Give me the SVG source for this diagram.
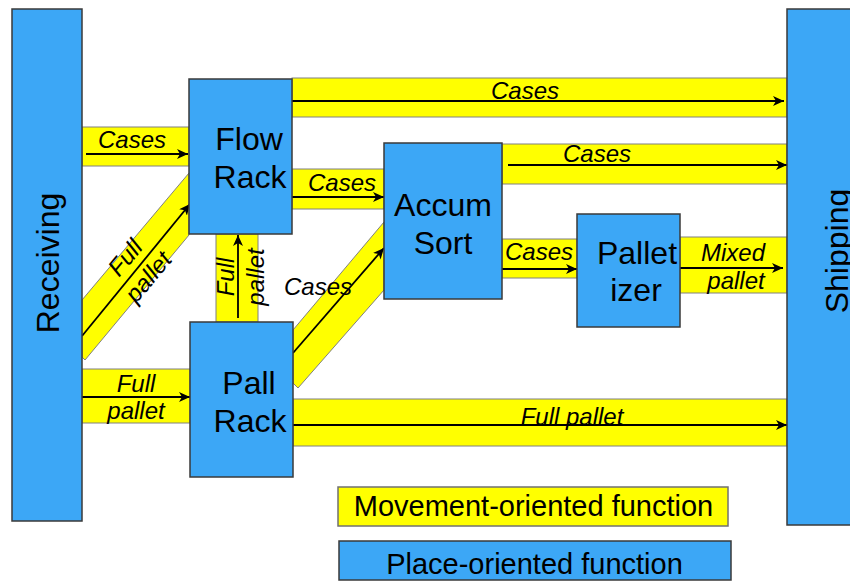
<svg xmlns="http://www.w3.org/2000/svg" width="850" height="581" viewBox="0 0 850 581">
<defs>
<marker id="ah" markerUnits="userSpaceOnUse" markerWidth="12" markerHeight="10" refX="11" refY="5" orient="auto">
<path d="M0,0 L11,5 L0,10 L3,5 Z" fill="#000"/>
</marker>
<style>
.band{fill:#FFFF00;stroke:#808080;stroke-width:1}
.arr{stroke:#000;stroke-width:1.8;fill:none;marker-end:url(#ah)}
.lbl{font-family:"Liberation Sans",Arial,sans-serif;font-size:24px;font-style:italic;fill:#000;text-anchor:middle}
.node{fill:#3CA7F6;stroke:#3a3a3a;stroke-width:1.5}
.ntx{font-family:"Liberation Sans",Arial,sans-serif;font-size:32px;fill:#000;text-anchor:middle}
.leg{font-family:"Liberation Sans",Arial,sans-serif;font-size:29px;fill:#000;text-anchor:middle}
</style>
</defs>
<rect width="850" height="581" fill="#fff"/>
<g id="connectors">
<!-- Receiving -> Flow Rack cases -->
<rect class="band" x="82" y="127" width="107" height="39"/>
<line class="arr" x1="86" y1="154" x2="188" y2="154"/>
<text class="lbl" x="132" y="148">Cases</text>
<!-- Flow Rack -> Shipping cases -->
<rect class="band" x="292" y="78" width="495" height="39"/>
<line class="arr" x1="292" y1="101" x2="784" y2="101"/>
<text class="lbl" x="525" y="99">Cases</text>
<!-- Flow Rack -> Accum Sort -->
<rect class="band" x="292" y="169" width="92" height="40"/>
<line class="arr" x1="292" y1="197" x2="384" y2="197"/>
<text class="lbl" x="342" y="191">Cases</text>
<!-- Accum Sort -> Shipping -->
<rect class="band" x="502" y="144" width="285" height="40"/>
<line class="arr" x1="508" y1="165" x2="787" y2="165"/>
<text class="lbl" x="597" y="162">Cases</text>
<!-- Accum Sort -> Palletizer -->
<rect class="band" x="502" y="239" width="75" height="39"/>
<line class="arr" x1="502" y1="269" x2="577" y2="269"/>
<text class="lbl" x="539" y="260">Cases</text>
<!-- Palletizer -> Shipping -->
<rect class="band" x="680" y="237" width="107" height="56"/>
<line class="arr" x1="680" y1="268" x2="783" y2="268"/>
<text class="lbl" x="733" y="261">Mixed</text>
<text class="lbl" x="736" y="289">pallet</text>
<!-- Receiving -> Pall Rack -->
<rect class="band" x="82" y="369" width="108" height="54"/>
<line class="arr" x1="82" y1="397" x2="190" y2="397"/>
<text class="lbl" x="136" y="392">Full</text>
<text class="lbl" x="136" y="419">pallet</text>
<!-- Pall Rack -> Shipping -->
<rect class="band" x="293" y="399" width="494" height="47"/>
<line class="arr" x1="293" y1="425" x2="787" y2="425"/>
<text class="lbl" x="572" y="425">Full pallet</text>
<!-- Pall Rack -> Flow Rack (vertical) -->
<rect class="band" x="216" y="234" width="42" height="88"/>
<line class="arr" x1="238" y1="318" x2="238" y2="235"/>
<text class="lbl" transform="translate(234,277) rotate(-90)">Full</text>
<text class="lbl" transform="translate(264,277) rotate(-90)">pallet</text>
<!-- Receiving -> Flow Rack diagonal -->
<polygon class="band" points="82,300 189,173 189,235 85,360 82,357"/>
<line class="arr" x1="82" y1="336" x2="190" y2="204"/>
<text class="lbl" transform="translate(143,272.5) rotate(-50)"><tspan x="0" y="-15">Full</tspan><tspan x="0" y="15">pallet</tspan></text>
<!-- Pall Rack -> Accum Sort diagonal -->
<polygon class="band" points="293,330 384,222 384,290 298,388 293,383"/>
<line class="arr" x1="293" y1="353" x2="384" y2="248"/>
<text class="lbl" x="318" y="295">Cases</text>
</g>
<g id="receiving">
<rect class="node" x="12" y="9" width="70" height="512"/>
<text class="ntx" transform="translate(59,263) rotate(-90)">Receiving</text>
</g>
<g id="shipping">
<rect class="node" x="787" y="9" width="80" height="516"/>
<text class="ntx" transform="translate(848,251) rotate(-90)">Shipping</text>
</g>
<g id="flow-rack">
<rect class="node" x="189" y="79" width="103" height="155"/>
<text class="ntx" x="249" y="150">Flow</text>
<text class="ntx" x="250" y="188">Rack</text>
</g>
<g id="pall-rack">
<rect class="node" x="190" y="322" width="103" height="155"/>
<text class="ntx" x="249" y="394">Pall</text>
<text class="ntx" x="250" y="432">Rack</text>
</g>
<g id="accum-sort">
<rect class="node" x="384" y="143" width="118" height="156"/>
<text class="ntx" x="443" y="216">Accum</text>
<text class="ntx" x="443" y="254">Sort</text>
</g>
<g id="palletizer">
<rect class="node" x="577" y="214" width="103" height="113"/>
<text class="ntx" x="637" y="264">Pallet</text>
<text class="ntx" x="636" y="301">izer</text>
</g>
<g id="legend-movement">
<rect class="band" x="338" y="487" width="390" height="39" style="stroke:#707070;stroke-width:1.5"/>
<text class="leg" x="533.5" y="516">Movement-oriented function</text>
</g>
<g id="legend-place">
<rect class="node" x="339" y="541" width="392" height="39"/>
<text class="leg" x="534.5" y="574">Place-oriented function</text>
</g>
</svg>
